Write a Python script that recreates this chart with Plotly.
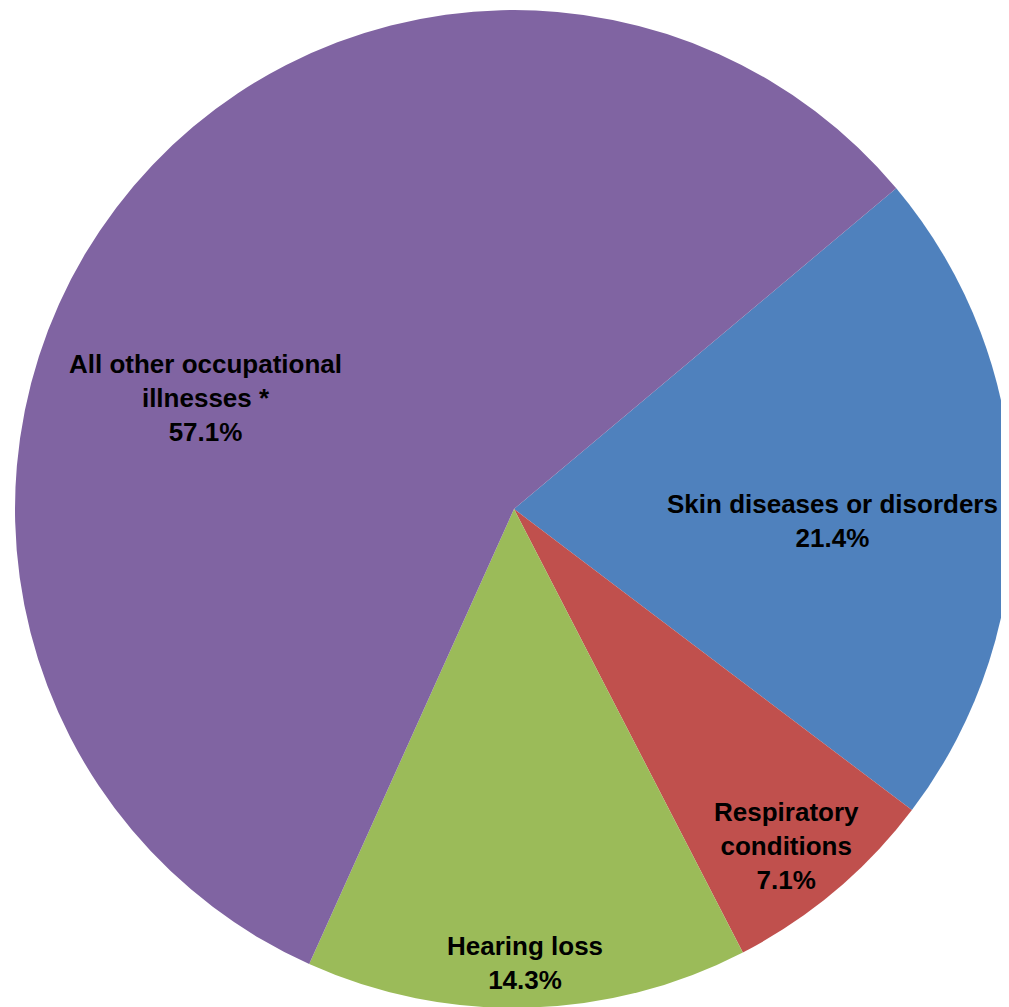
import plotly.graph_objects as go

# illness categories, share of cases (%)
labels = ["Skin diseases or disorders", "Respiratory conditions", "Hearing loss",
          "All other occupational illnesses *"]
shares = [21.4, 7.1, 14.3, 57.1]
colors = ["#4F81BD", "#C0504D", "#9BBB59", "#8064A2"]

# label text broken the way the original wraps it
label_lines = [["Skin diseases or disorders"], ["Respiratory", "conditions"], ["Hearing loss"],
               ["All other occupational", "illnesses *"]]
label_pos = [(0.8176, 0.4906), (0.7711, 0.1678), (0.5124, 0.0516), (0.1962, 0.6127)]

W, H = 1009, 1007

fig = go.Figure()

fig.add_trace(go.Pie(
    labels=labels, values=shares, sort=False, direction='clockwise', rotation=50,
    marker=dict(colors=colors, line=dict(width=0)),
    textinfo='none', hoverinfo='label+percent',
    domain=dict(x=[7 / W, 1005 / W], y=[1 - 1000 / H, 1 - 2 / H]),
))

for lines, val, (px, py) in zip(label_lines, shares, label_pos):
    fig.add_annotation(
        text="<br>".join(f"<b>{ln}</b>" for ln in lines) + f"<br><b>{val:.1f}%</b>",
        x=px, y=py, xref='paper', yref='paper', showarrow=False,
        font=dict(family="Liberation Sans, Arial", size=26, color="#000000"),
        align='center', xanchor='center', yanchor='middle',
    )

fig.update_layout(
    width=W, height=H, showlegend=False,
    margin=dict(l=0, r=0, t=0, b=0),
    paper_bgcolor='white', plot_bgcolor='white',
)

fig.write_html("out.html")
